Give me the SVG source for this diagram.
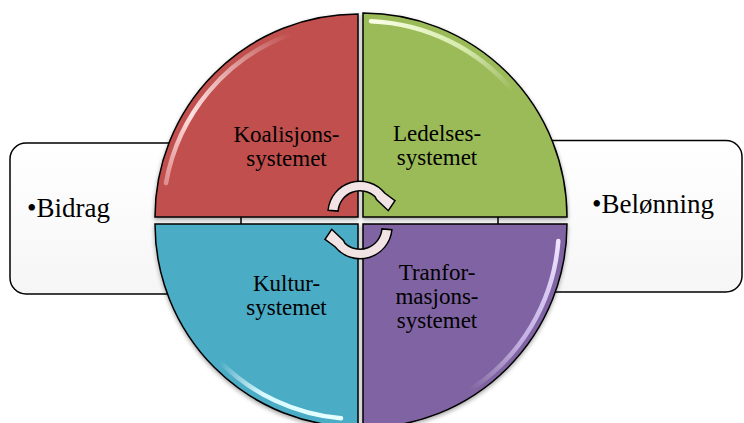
<svg xmlns="http://www.w3.org/2000/svg" width="744" height="423" viewBox="0 0 744 423">
  <defs>
    <style>
      .box { stroke: #000; stroke-width: 1.5; fill: url(#boxFill); }
      .quad { stroke: #000; stroke-width: 1.5; }
      .lbl { font-family: "Liberation Serif", "Times New Roman", serif; font-size: 23px; fill: #000; text-anchor: middle; }
      .side { font-family: "Liberation Serif", "Times New Roman", serif; font-size: 27px; fill: #000; }
      .hl { fill: none; stroke-linecap: round; }
      .arrow { fill: #f2e4e4; stroke: #000; stroke-width: 1.5; stroke-linejoin: miter; }
    </style>
    <linearGradient id="boxFill" x1="0" y1="0" x2="0" y2="1">
      <stop offset="0" stop-color="#ffffff"/>
      <stop offset="1" stop-color="#f6f6f6"/>
    </linearGradient>
    <filter id="shadow" x="-10%" y="-10%" width="120%" height="125%">
      <feDropShadow dx="0" dy="2" stdDeviation="2" flood-color="#000" flood-opacity="0.35"/>
    </filter>
    <filter id="soft" x="-20%" y="-20%" width="140%" height="140%">
      <feGaussianBlur stdDeviation="0.7"/>
    </filter>
    <linearGradient id="hlRed" gradientUnits="userSpaceOnUse" x1="166" y1="183" x2="292" y2="34">
      <stop offset="0" stop-color="#ffd0d0" stop-opacity="0.5"/>
      <stop offset="0.35" stop-color="#ffe0e0" stop-opacity="1"/>
      <stop offset="1" stop-color="#fff" stop-opacity="0"/>
    </linearGradient>
    <linearGradient id="hlRedV" x1="0" y1="0" x2="0" y2="1">
      <stop offset="0" stop-color="#ffc8c8" stop-opacity="1"/>
      <stop offset="1" stop-color="#ffc8c8" stop-opacity="0.2"/>
    </linearGradient>
    <linearGradient id="hlGreen" gradientUnits="userSpaceOnUse" x1="370" y1="21" x2="513" y2="91">
      <stop offset="0" stop-color="#fbffe8" stop-opacity="1"/>
      <stop offset="0.6" stop-color="#f0ffd0" stop-opacity="0.7"/>
      <stop offset="1" stop-color="#fff" stop-opacity="0"/>
    </linearGradient>
    <linearGradient id="hlBlueTop" gradientUnits="userSpaceOnUse" x1="165" y1="0" x2="350" y2="0">
      <stop offset="0" stop-color="#e8ffff" stop-opacity="1"/>
      <stop offset="0.45" stop-color="#d0f6ff" stop-opacity="0.7"/>
      <stop offset="1" stop-color="#fff" stop-opacity="0"/>
    </linearGradient>
    <linearGradient id="hlBlueArc" gradientUnits="userSpaceOnUse" x1="220" y1="362" x2="341" y2="418">
      <stop offset="0" stop-color="#fff" stop-opacity="0"/>
      <stop offset="0.4" stop-color="#d8fbff" stop-opacity="1"/>
      <stop offset="1" stop-color="#e8ffff" stop-opacity="1"/>
    </linearGradient>
    <linearGradient id="hlPurpleV" x1="0" y1="0" x2="0" y2="1">
      <stop offset="0" stop-color="#f0e4ff" stop-opacity="1"/>
      <stop offset="1" stop-color="#e4d4ff" stop-opacity="0.3"/>
    </linearGradient>
    <linearGradient id="hlPurpleArc" gradientUnits="userSpaceOnUse" x1="558" y1="241" x2="470" y2="390">
      <stop offset="0" stop-color="#f0e4ff" stop-opacity="1"/>
      <stop offset="0.6" stop-color="#e0d0ff" stop-opacity="0.7"/>
      <stop offset="1" stop-color="#fff" stop-opacity="0"/>
    </linearGradient>
  </defs>

  <rect width="744" height="423" fill="#ffffff"/>

  <g id="box-left">
    <rect class="box" x="10" y="143" width="231" height="151" rx="16" ry="16"/>
    <text class="side" x="27" y="217">•Bidrag</text>
  </g>
  <g id="box-right">
    <rect class="box" x="498" y="140.5" width="244" height="151.5" rx="16" ry="16"/>
    <text class="side" x="592" y="213">•Belønning</text>
  </g>

  <g id="q-koalisjon">
    <path class="quad" fill="#c0504d" filter="url(#shadow)" d="M358 217 L155 217 A203 203 0 0 1 358 14 Z"/>
    <path class="hl" stroke="url(#hlRed)" stroke-width="4.5" filter="url(#soft)" d="M166 183 A195 195 0 0 1 291.3 33.8"/>
    <path class="hl" stroke="url(#hlRedV)" stroke-width="4.5" filter="url(#soft)" d="M351 22 L351 210"/>
    <text class="lbl" x="286.5" y="142">Koalisjons-</text>
    <text class="lbl" x="286.5" y="166">systemet</text>
  </g>

  <g id="q-ledelse">
    <path class="quad" fill="#9bbb59" filter="url(#shadow)" d="M363 217 L363 13 A204 204 0 0 1 567 217 Z"/>
    <path class="hl" stroke="url(#hlGreen)" stroke-width="4.5" filter="url(#soft)" d="M371 21.2 A196 196 0 0 1 513.1 91"/>
    <path class="hl" stroke="#f4ffd8" stroke-opacity="0.85" stroke-width="3.5" filter="url(#soft)" d="M532 211 L557 211"/>
    <text class="lbl" x="437" y="141">Ledelses-</text>
    <text class="lbl" x="437" y="165">systemet</text>
  </g>

  <g id="q-kultur">
    <path class="quad" fill="#4bacc6" filter="url(#shadow)" d="M358 224 L358 427 A203 203 0 0 1 155 224 Z"/>
    <path class="hl" stroke="url(#hlBlueTop)" stroke-width="4.5" filter="url(#soft)" d="M166 231 L350 231"/>
    <path class="hl" stroke="url(#hlBlueArc)" stroke-width="4.5" filter="url(#soft)" d="M220.1 361.9 A195 195 0 0 0 341 418.3"/>
    <text class="lbl" x="286.5" y="291">Kultur-</text>
    <text class="lbl" x="286.5" y="315">systemet</text>
  </g>

  <g id="q-transform">
    <path class="quad" fill="#8064a2" filter="url(#shadow)" d="M363 224 L567 224 A204 204 0 0 1 363 428 Z"/>
    <path class="hl" stroke="url(#hlPurpleV)" stroke-width="4.5" filter="url(#soft)" d="M370 233 L370 410"/>
    <path class="hl" stroke="url(#hlPurpleArc)" stroke-width="4.5" filter="url(#soft)" d="M558.3 241.1 A196 196 0 0 1 470 390"/>
    <text class="lbl" x="437" y="280">Tranfor-</text>
    <text class="lbl" x="437" y="304">masjons-</text>
    <text class="lbl" x="437" y="328">systemet</text>
  </g>

  <g id="connectors">
    <path class="arrow" d="M328.1 210.2 A32 32 0 0 1 385 193.3 L395 200.7 L388.3 210.7 L376.5 199.6 L375.2 196.9 A22 22 0 0 0 338.1 211.1 Z"/>
    <path class="arrow" d="M391.9 229.8 A32 32 0 0 1 335 246.7 L325 239.3 L331.7 229.3 L343.5 240.4 L344.8 243.1 A22 22 0 0 0 381.9 228.9 Z"/>
  </g>
</svg>
